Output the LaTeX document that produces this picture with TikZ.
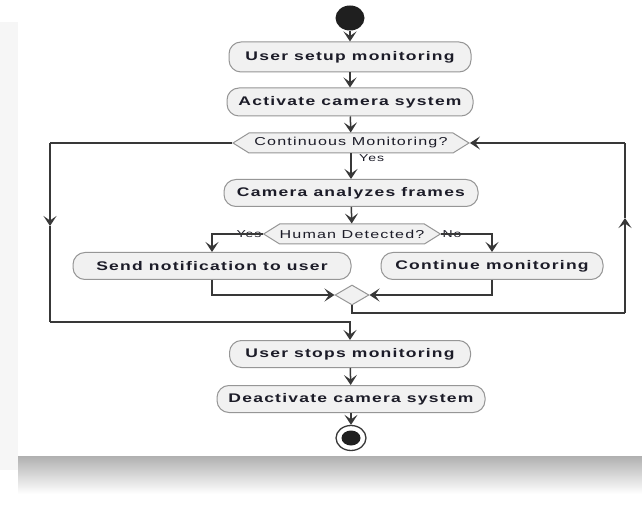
\documentclass[tikz,border=0pt]{standalone}
\usepackage{fontspec}
\usepackage{tikz}
\usetikzlibrary{
	arrows.meta,
	shapes.geometric,
	shapes.symbols,
	positioning
}
\newfontfamily\umlfont[FakeStretch=1.4,LetterSpace=10]{Liberation Sans}
\definecolor{BoxFill}{RGB}{241,241,241}
\definecolor{BoxLine}{RGB}{150,150,150}
\definecolor{FlowLine}{RGB}{56,56,56}
\definecolor{TextInk}{RGB}{28,28,40}

\tikzset{
	activity/.style={draw=BoxLine, fill=BoxFill, line width=1pt, rounded corners=12pt,
		minimum height=27pt, inner sep=0pt, text=TextInk,
		font=\umlfont\bfseries\fontsize{12.5}{14}\selectfont},
	decision/.style={draw=BoxLine, fill=BoxFill, line width=1pt, signal, signal to=west and east,
		signal pointer angle=64, minimum height=20pt, inner sep=0pt, text=TextInk,
		font=\umlfont\fontsize{11.5}{13}\selectfont},
	merge/.style={draw=BoxLine, fill=BoxFill, line width=1pt, diamond, aspect=1.7,
		minimum width=34pt, minimum height=20pt, inner sep=0pt},
	guard/.style={inner sep=1pt, text=TextInk, font=\umlfont\fontsize{10}{11}\selectfont},
	flow/.style={draw=FlowLine, line width=1.5pt, -{Stealth[length=10pt,width=13pt,inset=4.5pt]}},
	wire/.style={draw=FlowLine, line width=1.5pt}
}

\begin{document}
\begin{tikzpicture}[x=1pt, y=-1pt]
	\useasboundingbox (0,0) rectangle (642,510);
	
	% paper shadow
	\fill[gray!7] (0,22) rectangle (18,470);
	\fill[top color=gray!62, bottom color=white, draw=none] (18,456) rectangle (642,494);
	\fill[white] (18,0) rectangle (642,456);
	
	% nodes
	\node[ellipse, fill=black!88, minimum width=29pt, minimum height=25pt, inner sep=0pt] (start) at (350,18) {};
	\node[activity, minimum width=242pt, minimum height=30pt] (setup) at (350,57) {User setup monitoring};
	\node[activity, minimum width=246pt, minimum height=28pt] (activate) at (350,102) {Activate camera system};
	\node[decision, minimum width=236pt] (cm) at (351,143) {Continuous Monitoring?};
	\node[activity, minimum width=254pt] (analyze) at (351,193) {Camera analyzes frames};
	\node[decision, minimum width=171pt] (hd) at (352,234) {Human Detected?};
	\node[activity, minimum width=278pt] (notify) at (212,266) {Send notification to user};
	\node[activity, minimum width=222pt] (cont) at (492,266) {Continue monitoring};
	\node[merge] (join) at (352,295) {};
	\node[activity, minimum width=241pt] (stop) at (350,354) {User stops monitoring};
	\node[activity, minimum width=268pt] (deact) at (351,399) {Deactivate camera system};
	\node[ellipse, draw=FlowLine, fill=white, line width=1.3pt, minimum width=30pt, minimum height=25pt, inner sep=0pt] (end) at (351,438) {};
	\node[ellipse, fill=black!88, minimum width=19pt, minimum height=15pt, inner sep=0pt] (endDot) at (end) {};
	
	% guards
	\node[guard, anchor=north west, xshift=7pt] (yesCm) at (cm.south) {Yes};
	\node[guard, anchor=south east, yshift=-5pt] (yesHd) at (hd.west) {Yes};
	\node[guard, anchor=south west, yshift=-5pt] (noHd) at (hd.east) {No};
	
	% loop corners
	\coordinate (loopL) at (50,143);
	\coordinate (loopLmid) at (50,226);
	\coordinate (loopLbot) at (50,322);
	\coordinate (joinLow) at (352,313);
	\coordinate (loopRbot) at (625,313);
	\coordinate (loopRmid) at (625,218);
	\coordinate (loopR) at (625,143);
	
	% main flow
	\draw[flow] (start) -- (setup);
	\draw[flow] (setup) -- (activate);
	\draw[flow] (activate) -- (cm);
	\draw[flow] (cm) -- (analyze);
	\draw[flow] (analyze) -- (hd);
	\draw[flow] (hd.west) -| (notify.north);
	\draw[flow] (hd.east) -| (cont.north);
	\draw[flow] (notify.south) |- (join.west);
	\draw[flow] (cont.south) |- (join.east);
	
	% back to the check
	\draw[wire] (join.south) -- (joinLow) -- (loopRbot);
	\draw[flow] (loopRbot) -- (loopRmid);
	\draw[wire] (loopRmid) -- (loopR);
	\draw[flow] (loopR) -- (cm.east);
	
	% leave the loop
	\draw[wire] (cm.west) -- (loopL);
	\draw[flow] (loopL) -- (loopLmid);
	\draw[wire] (loopLmid) -- (loopLbot);
	\draw[flow] (loopLbot) -| (stop.north);
	
	\draw[flow] (stop) -- (deact);
	\draw[flow] (deact) -- (end);
\end{tikzpicture}
\end{document}
